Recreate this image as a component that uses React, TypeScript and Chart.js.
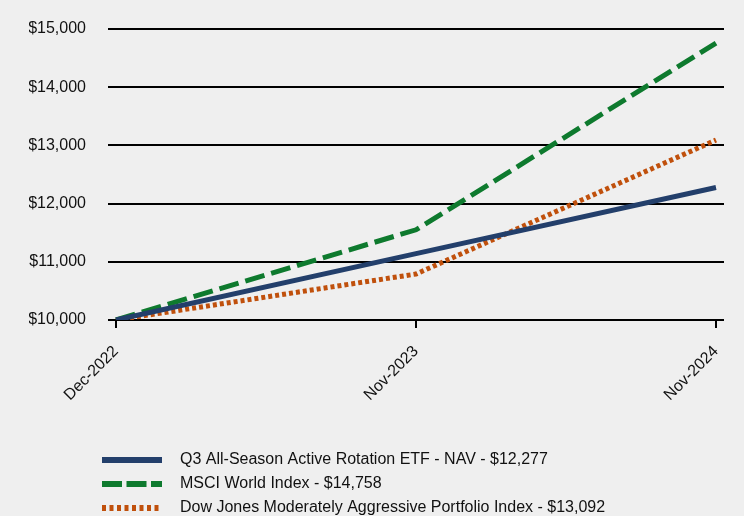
import React, { useEffect, useRef } from "react";
import { Chart, registerables } from "chart.js";

Chart.register(...registerables);

const categories = ["Dec-2022", "Nov-2023", "Nov-2024"];
const fundValues = [10000, 11140, 12277];
const msciValues = [10000, 11550, 14758];
const djValues = [10000, 10790, 13092];
const seriesLabels = [
  "Q3 All-Season Active Rotation ETF - NAV - $12,277",
  "MSCI World Index - $14,758",
  "Dow Jones Moderately Aggressive Portfolio Index - $13,092",
];
const yMin = 10000;
const yMax = 15000;
const yStep = 1000;

const NAVY = "#233F6B";
const GREEN = "#0E7A2E";
const ORANGE = "#C0500C";
const FONT = "'Liberation Sans', Arial, Helvetica, sans-serif";

function fmtDollar(v: number): string {
  return "$" + Math.round(v).toString().replace(/\B(?=(\d{3})+(?!\d))/g, ",");
}

// Legend swatch: a 115px-wide image whose right 60px carry the line sample.
function makeSwatch(color: string, dash: number[]): HTMLCanvasElement {
  const c = document.createElement("canvas");
  c.width = 115;
  c.height = 8;
  const ctx = c.getContext("2d")!;
  ctx.strokeStyle = color;
  ctx.lineWidth = 6;
  ctx.lineCap = "butt";
  ctx.setLineDash(dash);
  ctx.beginPath();
  ctx.moveTo(55, 4);
  ctx.lineTo(115, 4);
  ctx.stroke();
  return c;
}

export default function App() {
  const ref = useRef<HTMLCanvasElement | null>(null);
  useEffect(() => {
    if (!ref.current) return;
    const chart = new Chart(ref.current, {
      type: "line",
      data: {
        labels: categories,
        datasets: [
          {
            label: seriesLabels[0],
            data: fundValues,
            borderColor: NAVY,
            backgroundColor: NAVY,
            borderWidth: 5,
            pointRadius: 0,
            pointHoverRadius: 0,
            pointStyle: makeSwatch(NAVY, []),
            tension: 0,
          },
          {
            label: seriesLabels[1],
            data: msciValues,
            borderColor: GREEN,
            backgroundColor: GREEN,
            borderWidth: 5,
            borderDash: [20, 7],
            pointRadius: 0,
            pointHoverRadius: 0,
            pointStyle: makeSwatch(GREEN, [20, 4.5]),
            tension: 0,
          },
          {
            label: seriesLabels[2],
            data: djValues,
            borderColor: ORANGE,
            backgroundColor: ORANGE,
            borderWidth: 5,
            borderDash: [4, 3],
            pointRadius: 0,
            pointHoverRadius: 0,
            pointStyle: makeSwatch(ORANGE, [4, 3.5]),
            tension: 0,
          },
        ],
      },
      options: {
        animation: false,
        responsive: true,
        maintainAspectRatio: false,
        layout: { padding: { left: 29, right: 20, top: 29, bottom: 0 } },
        plugins: {
          tooltip: { enabled: false },
          legend: {
            position: "bottom",
            align: "start",
            labels: {
              usePointStyle: true,
              pointStyleWidth: 135,
              padding: 8,
              color: "#111",
              font: { family: FONT, size: 16 },
            },
          },
        },
        scales: {
          x: {
            type: "category",
            offset: false,
            border: { display: false },
            grid: {
              drawOnChartArea: false,
              drawTicks: true,
              tickLength: 8,
              color: "#000",
              lineWidth: 2,
            },
            ticks: {
              color: "#111",
              font: { family: FONT, size: 16 },
              maxRotation: 45,
              minRotation: 45,
              padding: 14,
            },
            afterFit: (s: any) => {
              s.height = 124;
            },
          },
          y: {
            position: "left",
            min: yMin,
            max: yMax,
            border: { display: false },
            grid: {
              color: "#000",
              lineWidth: 2,
              drawTicks: true,
              tickLength: 8,
            },
            ticks: {
              stepSize: yStep,
              color: "#111",
              padding: 22,
              font: { family: FONT, size: 16 },
              callback: (v: any) => fmtDollar(Number(v)),
            },
            afterFit: (s: any) => {
              s.width = 87;
              s.paddingTop = 10;
              s.paddingBottom = 10;
            },
          },
          yRight: {
            position: "right",
            min: yMin,
            max: yMax,
            border: { display: false },
            grid: {
              color: "#000",
              lineWidth: 2,
              drawOnChartArea: false,
              drawTicks: true,
              tickLength: 8,
            },
            ticks: { stepSize: yStep, display: false },
          },
        },
      },
    });
    return () => chart.destroy();
  }, []);
  return (
    <div
      style={{
        position: "fixed",
        left: 0,
        top: 0,
        width: 744,
        height: 526,
        background: "#EFEFEF",
      }}
    >
      <canvas ref={ref} />
    </div>
  );
}
